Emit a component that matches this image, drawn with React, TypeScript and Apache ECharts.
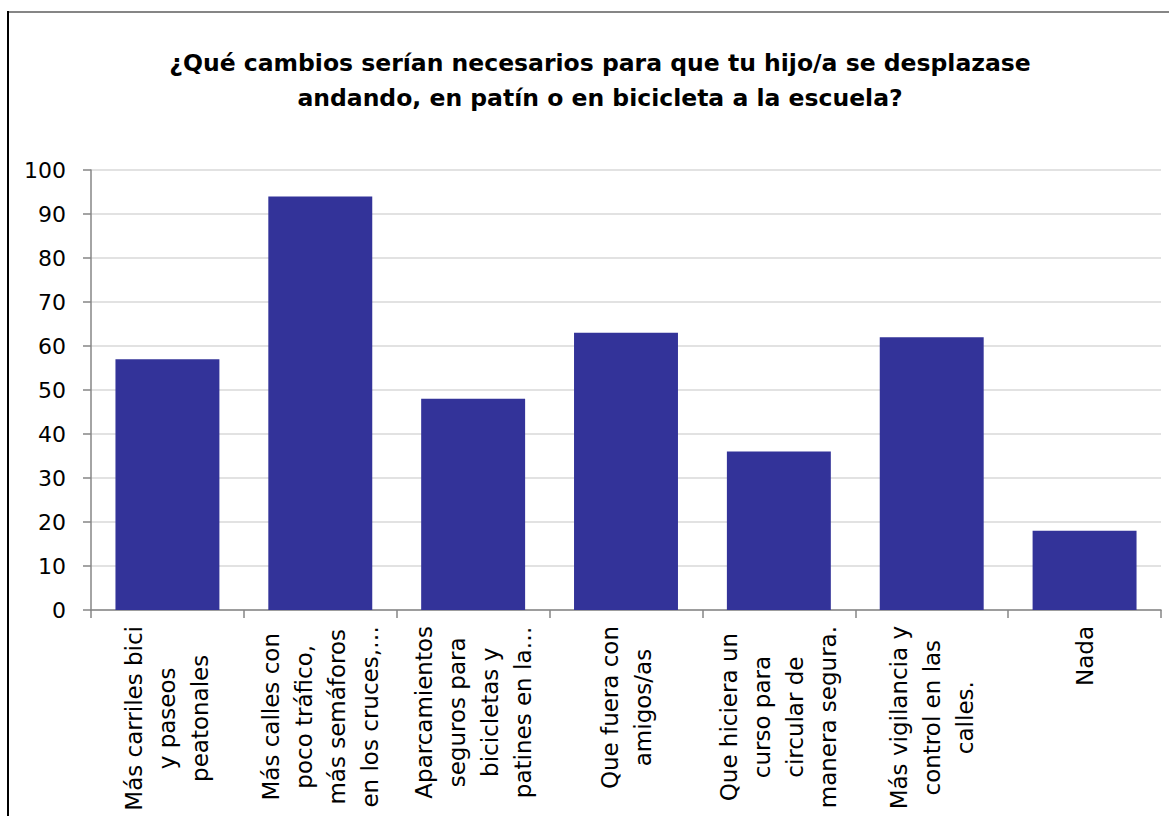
import React, { useEffect, useRef } from "react";
import * as echarts from "echarts";

const titleLines = [
  "¿Qué cambios serían necesarios para que tu hijo/a se desplazase",
  "andando, en patín o en bicicleta a la escuela?",
];

const categories = [
  "Más carriles bici\ny paseos\npeatonales",
  "Más calles con\npoco tráfico,\nmás semáforos\nen los cruces,…",
  "Aparcamientos\nseguros para\nbicicletas y\npatines en la…",
  "Que fuera con\namigos/as",
  "Que hiciera un\ncurso para\ncircular de\nmanera segura.",
  "Más vigilancia y\ncontrol en las\ncalles.",
  "Nada",
];

const values = [57, 94, 48, 63, 36, 62, 18];

const yMin = 0;
const yMax = 100;
const yInterval = 10;

const FONT = "DejaVu Sans";

export default function App() {
  const ref = useRef<HTMLDivElement>(null);
  useEffect(() => {
    if (!ref.current) return;
    const chart = echarts.init(ref.current, null, { renderer: "svg" });
    chart.setOption({
      animation: false,
      backgroundColor: "#ffffff",
      title: {
        text: titleLines.join("\n"),
        left: 595,
        top: 40,
        textAlign: "center",
        textStyle: {
          fontFamily: FONT,
          fontSize: 23.5,
          fontWeight: "bold",
          color: "#000000",
          lineHeight: 35,
        },
      },
      graphic: [
        {
          type: "line",
          shape: { x1: 8, y1: 12, x2: 1169, y2: 12 },
          style: { stroke: "#868686", lineWidth: 2 },
          silent: true,
        },
        {
          type: "line",
          shape: { x1: 8, y1: 11, x2: 8, y2: 816 },
          style: { stroke: "#000000", lineWidth: 2 },
          silent: true,
        },
      ],
      grid: { left: 91, right: 8, top: 170, bottom: 206, containLabel: false },
      xAxis: {
        type: "category",
        data: categories,
        axisLine: { show: true, lineStyle: { color: "#868686", width: 1.5 } },
        axisTick: { show: true, length: 8, alignWithLabel: false, lineStyle: { color: "#868686", width: 1.5 } },
        axisLabel: {
          interval: 0,
          rotate: 90,
          margin: 16,
          fontFamily: FONT,
          fontSize: 23,
          color: "#000000",
          lineHeight: 33,
          formatter: (v: string) =>
            v
              .split("\n")
              .map((l) => `{c|${l}}`)
              .join("\n"),
          rich: {
            c: {
              align: "center",
              fontFamily: FONT,
              fontSize: 23,
              lineHeight: 33,
              color: "#000000",
            },
          },
        },
      },
      yAxis: {
        type: "value",
        min: yMin,
        max: yMax,
        interval: yInterval,
        axisLine: { show: true, lineStyle: { color: "#868686", width: 1.5 } },
        axisTick: { show: true, length: 8, lineStyle: { color: "#868686", width: 1.5 } },
        splitLine: { show: true, lineStyle: { color: "#d9d9d9", width: 1.5 } },
        axisLabel: {
          margin: 25,
          fontFamily: FONT,
          fontSize: 22,
          color: "#000000",
        },
      },
      series: [
        {
          type: "bar",
          data: values,
          barCategoryGap: "32%",
          itemStyle: { color: "#333399" },
        },
      ],
    });
    return () => chart.dispose();
  }, []);
  return (
    <div
      ref={ref}
      style={{ position: "fixed", left: 0, top: 0, width: 1169, height: 816 }}
    />
  );
}
